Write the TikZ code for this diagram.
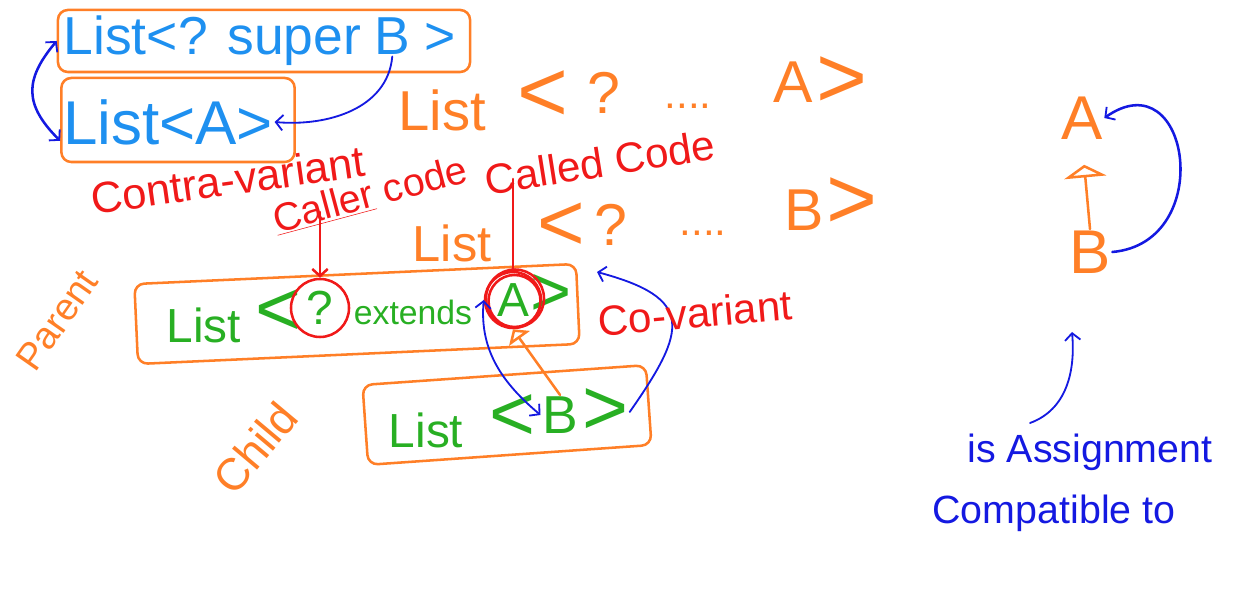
\documentclass[tikz,border=0pt]{standalone}
\usepackage{fontspec}
\setmainfont{Liberation Sans}
\usetikzlibrary{arrows.meta,positioning}
\definecolor{penorange}{RGB}{255,127,39}
\definecolor{penblue}{RGB}{30,144,240}
\definecolor{inkblue}{RGB}{20,25,225}
\definecolor{penred}{RGB}{240,25,25}
\definecolor{pengreen}{RGB}{40,175,35}
\tikzset{
	pen/.style={line width=1.8pt, line cap=round, line join=round},
	inkpen/.style={line width=1.3pt, draw=inkblue, line cap=round},
	redpen/.style={pen, draw=penred},
	txt/.style={inner sep=1pt, font=\fontsize{#1}{#1}\selectfont},
	listbox/.style={pen, draw=penorange, rounded corners=7pt, inner sep=0pt},
	barb/.tip={Straight Barb[length=5pt,width=11pt,line width=1.3pt]},
}

\begin{document}
\begin{tikzpicture}[x=0.025cm,y=0.025cm]
			\useasboundingbox (0,0) rectangle (1240,590);
			\begin{scope}
				% upper boxes
				\node[listbox, minimum width=10.3cm, minimum height=1.55cm] (Super) at (264,549) {};
				\node[listbox, minimum width=5.83cm, minimum height=2.1cm] (ListA) at (178,470) {};
				\node[txt=38, text=penblue, anchor=west] (SupList) at (62,549) {List<? super};
				\node[txt=38, text=penblue, base right=7pt of SupList] (SupB) {B};
				\node[txt=38, text=penblue, base right=8pt of SupB] (SupGt) {>};
				\node[txt=44, text=penblue] (LAText) at (168,468) {List<A>};
				\draw[inkpen, line width=1.8pt, {barb}-{barb}] (Super.west) to[out=230, in=135, looseness=1.3] (ListA.190);
				\draw[inkpen, -{barb}] (SupB.south) to[out=-95, in=-5] (LAText.east);
				\node[txt=31, text=penred, rotate=8] (Contra) at (228,410) {Contra-variant};
				\node[txt=28, text=penred, rotate=15] (CallerCode) at (370,395) {\underline{Caller} code};
				\node[txt=30, text=penred, rotate=9] (CalledCode) at (600,428) {Called Code};
			\end{scope}
			\begin{scope}
				% the two rows of wildcards
				\foreach \T/\X/\Y/\S [count=\i] in {List/442/480/40, {<}/543/494/62, ?/604/497/42,
					{....}/688/484/30, A/793/508/42, {>}/842/508/62}
					\node[txt=\S, text=penorange] (RowA\i) at (\X,\Y) {\T};
				\foreach \T/\X/\Y/\S [count=\i] in {List/452/347/36, {<}/561/363/58, ?/611/365/42,
					{....}/703/357/30, B/804/380/42, {>}/852/387/62}
					\node[txt=\S, text=penorange] (RowB\i) at (\X,\Y) {\T};
			\end{scope}
			\begin{scope}
				% parent and child
				\node[listbox, minimum width=11.05cm, minimum height=2cm, rotate=2.6] (PBox) at (357,276) {};
				\node[listbox, minimum width=7.1cm, minimum height=2cm, rotate=4] (CBox) at (507,175) {};
				\node[txt=34, text=pengreen] (PList) at (204,265) {List};
				\node[txt=56, text=pengreen] (PLt) at (278,277) {<};
				\node[txt=34, text=pengreen, circle, pen, draw=penred, minimum size=1.45cm] (PQ) at (320,282) {?};
				\node[txt=24, text=pengreen] (PExt) at (413,278) {extends};
				\node[txt=34, text=pengreen, circle, pen, draw=penred, minimum size=1.4cm] (PA) at (513,290) {A};
				\node[txt=50, text=pengreen] (PGt) at (551,295) {>};
				\draw[redpen] ([shift={(1.5,-1)}]PA.center) circle[radius=26];
				\draw[redpen] ([shift={(2,1.5)}]PA.center) circle[radius=29];
				\node[txt=34, text=pengreen] (CList) at (426,160) {List};
				\node[txt=56, text=pengreen] (CLt) at (512,172) {<};
				\node[txt=38, text=pengreen] (CB) at (560,175) {B};
				\node[txt=56, text=pengreen] (CGt) at (605,178) {>};
				\coordinate (CoTip) at (597,318);
				\draw[redpen, -{Straight Barb[length=5pt,width=11pt]}] (PQ |- CallerCode.south) -- (PQ.north);
				\draw[redpen] (PA |- CalledCode.south) -- (PA.north);
				\draw[pen, draw=penorange, -{Triangle[open, length=8pt, width=18pt]}] (CB.north) -- (PA.south);
				\draw[inkpen, {barb}-{barb}] (PA.west) to[out=-95, in=140] (CB.west);
				\draw[inkpen, -{barb}] (CGt.east) to[out=55, in=-15, looseness=1.8] (CoTip);
				\node[txt=30, text=penred, rotate=5] (CoVar) at (695,277) {Co-variant};
				\node[txt=27, text=penorange, rotate=55] (ParentLbl) at (57,270) {Parent};
				\node[txt=32, text=penorange, rotate=50] (ChildLbl) at (255,142) {Child};
			\end{scope}
			\begin{scope}
				% assignment compatibility
				\node[txt=44, text=penorange] (RA) at (1082,472) {A};
				\node[txt=44, text=penorange] (RB) at (1090,338) {B};
				\draw[pen, draw=penorange, shorten >=17pt, -{Triangle[open, length=9pt, width=30pt]}] (RB.north) -- (RA.south);
				\draw[inkpen, line width=1.8pt, -{barb}] (RB.east) to[out=5, in=35, looseness=2] (RA.east);
				\node[txt=28, text=inkblue] (Assign) at (1090,138) {is Assignment};
				\node[txt=28, text=inkblue] (Compat) at (1054,77) {Compatible to};
				\coordinate (AsgTail) at (1030,167);
				\coordinate (AsgTip) at (1072,258);
				\draw[inkpen, -{barb}] (AsgTail) to[out=20, in=-85] (AsgTip);
			\end{scope}
		\end{tikzpicture}
\end{document}
